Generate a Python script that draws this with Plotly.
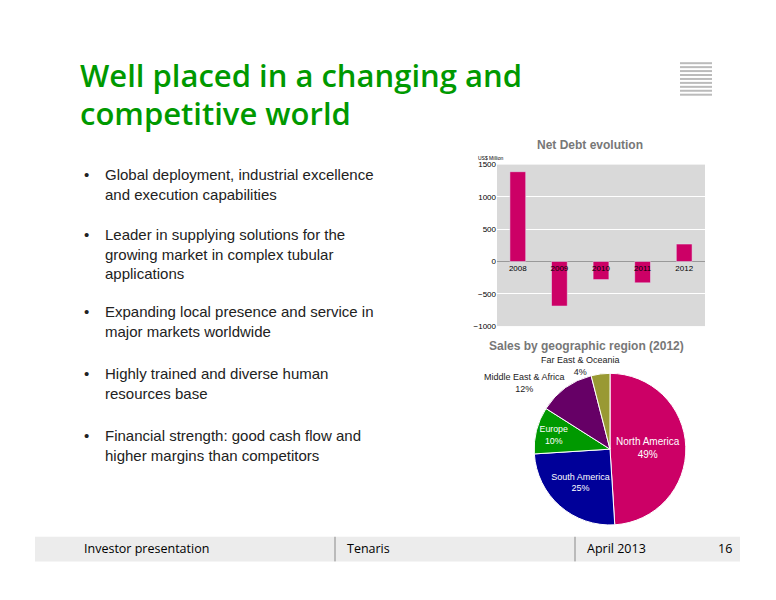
import plotly.graph_objects as go

years = ["2008", "2009", "2010", "2011", "2012"]
net_debt = [1390, -690, -280, -330, 270]

regions = ["North America", "South America", "Europe", "Middle East & Africa", "Far East & Oceania"]
shares = [49, 25, 10, 12, 4]
region_colors = ["#cc0066", "#000099", "#009900", "#660066", "#999933"]

bullets = [
    "Global deployment, industrial excellence<br>and execution capabilities",
    "Leader in supplying solutions for the<br>growing market in complex tubular<br>applications",
    "Expanding local presence and service in<br>major markets worldwide",
    "Highly trained and diverse human<br>resources base",
    "Financial strength: good cash flow and<br>higher margins than competitors",
]
bullet_y = [162, 223, 302, 364, 427]

W, H = 760, 584


def px(x):
    return (x - 8) / W


def py(y):
    return 1 - (y - 8) / H


fig = go.Figure()
fig.add_trace(go.Bar(x=years, y=net_debt, marker_color="#cc0066", width=0.38, showlegend=False))
fig.add_trace(go.Scatter(x=years, y=[-110] * 5, mode="text", text=years,
                         textfont=dict(size=8, color="#000"), showlegend=False, hoverinfo="skip"))

fig.add_trace(go.Pie(
    labels=regions, values=shares, sort=False, direction="clockwise", rotation=0,
    marker=dict(colors=region_colors, line=dict(color="white", width=1)),
    texttemplate=["%{label}<br>%{value}%", "%{label}<br>%{value}%", "%{label}<br>%{value}%", "", ""],
    textposition="inside", insidetextorientation="horizontal",
    textfont=dict(size=10, color="white", family="Liberation Sans"),
    domain=dict(x=[px(533), px(687)], y=[py(529), py(375)]), showlegend=False, hoverinfo="label+percent",
))

fig.update_layout(
    width=W, height=H, margin=dict(l=0, r=0, t=0, b=0),
    paper_bgcolor="white", plot_bgcolor="#d9d9d9",
    font=dict(family="Liberation Sans", color="#222"),
    xaxis=dict(domain=[px(497), px(705)], showticklabels=False, showgrid=False, zeroline=False),
    yaxis=dict(domain=[py(327), py(163)], range=[-1000, 1500], dtick=500, gridcolor="white",
               zeroline=True, zerolinecolor="#999", zerolinewidth=1,
               tickfont=dict(size=8, color="#000")),
)


def note(x, y, text, size, color="#222", anchor="left", family="Liberation Sans", yanchor="middle", weight="normal"):
    fig.add_annotation(x=px(x), y=py(y), xref="paper", yref="paper", xanchor=anchor, yanchor=yanchor,
                       text=text, showarrow=False, align=anchor if anchor != "center" else "center",
                       font=dict(size=size, color=color, family=family, weight=weight))


note(78, 72, "Well placed in a changing and", 31, "#009900", family="Open Sans", weight=600)
note(78, 111, "competitive world", 31, "#009900", family="Open Sans", weight=600)
note(590, 143, "<b>Net Debt evolution</b>", 12, "#777", anchor="center")
note(586, 347, "<b>Sales by geographic region (2012)</b>", 12, "#777", anchor="center")
note(476, 156, "US$ Million", 5, "#000")
note(580, 368, "Far East & Oceania<br>4%", 9, anchor="center")
note(524, 385, "Middle East & Africa<br>12%", 9, anchor="center")

for txt, yy in zip(bullets, bullet_y):
    note(82, yy, "•", 15, yanchor="top")
    note(103, yy, txt, 15, yanchor="top")

# footer bar
fig.add_shape(type="rect", xref="paper", yref="paper", x0=px(35), x1=px(740),
              y0=py(566), y1=py(541), fillcolor="#ececec", line_width=0, layer="below")
for sx in [335, 575]:
    fig.add_shape(type="line", xref="paper", yref="paper", x0=px(sx), x1=px(sx),
                  y0=py(566), y1=py(541), line=dict(color="#888", width=1))
for fx, ft in [(82, "Investor presentation"), (345, "Tenaris"), (585, "April 2013"), (716, "16")]:
    note(fx, 553, ft, 12.5, "#000", family="Open Sans")

# stripes logo top right
for i in range(9):
    yy = 60 + i * 4
    fig.add_shape(type="line", xref="paper", yref="paper", x0=px(680), x1=px(712),
                  y0=py(yy), y1=py(yy), line=dict(color="#bbb", width=2))

fig.write_html("out.html")
